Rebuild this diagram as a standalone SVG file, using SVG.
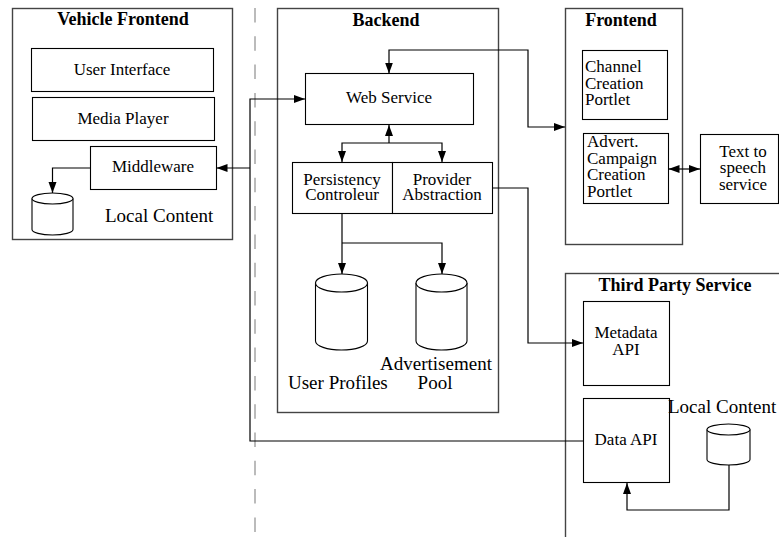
<svg xmlns="http://www.w3.org/2000/svg" width="779" height="537" viewBox="0 0 779 537">
  <style>
    .container { fill: #fff; stroke: #444; stroke-width: 1.4; }
    .box { fill: #fff; stroke: #000; stroke-width: 1.1; }
    .db { fill: #fff; stroke: #000; stroke-width: 1.1; }
    .wire { fill: none; stroke: #000; stroke-width: 1.2; }
    text { font-family: "Liberation Serif", "DejaVu Serif", serif; fill: #000; }
    .title { font-weight: bold; font-size: 18px; text-anchor: middle; }
    .lbl { font-size: 17px; font-weight: normal; }
    .mid { text-anchor: middle; }
    .big { font-size: 19px; }
    .divider { stroke: #bbb; stroke-width: 2; stroke-dasharray: 14.5 13.8; fill: none; }
  </style>
  <defs>
    <marker id="arrow" markerUnits="userSpaceOnUse" markerWidth="12" markerHeight="9" refX="11" refY="4" orient="auto-start-reverse">
      <path d="M0,0 L11,4 L0,8 z" fill="#000"/>
    </marker>
  </defs>

  <rect width="779" height="537" fill="#fff"/>

  <!-- divider between vehicle side and server side -->
  <line class="divider" x1="255" y1="8" x2="255" y2="537"/>

  <!-- Vehicle Frontend -->
  <g id="vehicle-frontend">
    <rect class="container" x="12.5" y="8.5" width="220" height="231"/>
    <text class="title" x="123" y="25">Vehicle Frontend</text>
    <g id="user-interface">
      <rect class="box" x="31.5" y="48.5" width="182" height="43"/>
      <text class="lbl mid" x="122" y="75">User Interface</text>
    </g>
    <g id="media-player">
      <rect class="box" x="32.5" y="97.5" width="182" height="43"/>
      <text class="lbl mid" x="123" y="124">Media Player</text>
    </g>
    <g id="middleware">
      <rect class="box" x="90.5" y="146.5" width="126" height="43"/>
      <text class="lbl mid" x="153" y="172">Middleware</text>
    </g>
    <g id="vehicle-local-content">
      <path class="db" d="M32,198.5 L32,229.5 A20.5,5.5 0 0 0 73,229.5 L73,198.5"/>
      <ellipse class="db" cx="52.5" cy="198.5" rx="20.5" ry="5.5"/>
      <text class="lbl big" x="105" y="222">Local Content</text>
    </g>
  </g>

  <!-- Backend -->
  <g id="backend">
    <rect class="container" x="277.5" y="8.5" width="221" height="404"/>
    <text class="title" x="386" y="26">Backend</text>
    <g id="web-service">
      <rect class="box" x="305.5" y="73.5" width="168" height="51"/>
      <text class="lbl mid" x="389" y="103">Web Service</text>
    </g>
    <g id="persistency-controleur">
      <rect class="box" x="292.5" y="162.5" width="100" height="51"/>
      <text class="lbl mid" x="342" y="185">Persistency</text>
      <text class="lbl mid" x="342" y="200">Controleur</text>
    </g>
    <g id="provider-abstraction">
      <rect class="box" x="392.5" y="162.5" width="100" height="51"/>
      <text class="lbl mid" x="442" y="185">Provider</text>
      <text class="lbl mid" x="442" y="200">Abstraction</text>
    </g>
    <g id="user-profiles">
      <path class="db" d="M315.5,283 L315.5,341 A26,9 0 0 0 367.5,341 L367.5,283"/>
      <ellipse class="db" cx="341.5" cy="283" rx="26" ry="9"/>
      <text class="lbl big" x="288" y="389">User Profiles</text>
    </g>
    <g id="advertisement-pool">
      <path class="db" d="M416,283 L416,341 A25.5,9 0 0 0 467,341 L467,283"/>
      <ellipse class="db" cx="441.5" cy="283" rx="25.5" ry="9"/>
      <text class="lbl big mid" x="436" y="370">Advertisement</text>
      <text class="lbl big mid" x="435" y="389">Pool</text>
    </g>
  </g>

  <!-- Frontend -->
  <g id="frontend">
    <rect class="container" x="565.5" y="8.5" width="117" height="236"/>
    <text class="title" x="621" y="26">Frontend</text>
    <g id="channel-creation-portlet">
      <rect class="box" x="582.5" y="50.5" width="85" height="69"/>
      <text class="lbl" x="585" y="72">Channel</text>
      <text class="lbl" x="585" y="88.5">Creation</text>
      <text class="lbl" x="585" y="105">Portlet</text>
    </g>
    <g id="advert-campaign-creation-portlet">
      <rect class="box" x="583.5" y="133.5" width="85" height="70"/>
      <text class="lbl" x="587" y="147">Advert.</text>
      <text class="lbl" x="587" y="163.5">Campaign</text>
      <text class="lbl" x="587" y="180">Creation</text>
      <text class="lbl" x="587" y="196.5">Portlet</text>
    </g>
  </g>

  <!-- Text to speech service -->
  <g id="text-to-speech">
    <rect class="box" x="700.5" y="134.5" width="78" height="69"/>
    <text class="lbl mid" x="743" y="157">Text to</text>
    <text class="lbl mid" x="743" y="173">speech</text>
    <text class="lbl mid" x="743" y="189.5">service</text>
  </g>

  <!-- Third Party Service -->
  <g id="third-party-service">
    <rect class="container" x="565.5" y="273.5" width="230" height="290"/>
    <text class="title" x="675" y="291">Third Party Service</text>
    <g id="metadata-api">
      <rect class="box" x="583.5" y="301.5" width="86" height="84"/>
      <text class="lbl mid" x="626" y="338">Metadata</text>
      <text class="lbl mid" x="626" y="355">API</text>
    </g>
    <g id="data-api">
      <rect class="box" x="583.5" y="398.5" width="86" height="84"/>
      <text class="lbl mid" x="626" y="445">Data API</text>
    </g>
    <g id="third-party-local-content">
      <path class="db" d="M707,429.5 L707,459.5 A21.5,5.5 0 0 0 750,459.5 L750,429.5"/>
      <ellipse class="db" cx="728.5" cy="429.5" rx="21.5" ry="5.5"/>
      <text class="lbl big" x="668" y="413">Local Content</text>
    </g>
  </g>

  <!-- Connectors -->
  <g id="connectors">
    <!-- vehicle middleware / web service / data API bus -->
    <polyline class="wire" points="583,441 250,441 250,99 305,99" marker-end="url(#arrow)"/>
    <line class="wire" x1="250" y1="168" x2="216.5" y2="168" marker-end="url(#arrow)"/>
    <!-- middleware to its local store -->
    <polyline class="wire" points="90.5,168 52.5,168 52.5,193" marker-end="url(#arrow)"/>
    <!-- web service to frontend portlets -->
    <polyline class="wire" points="389,73.5 389,50 528,50 528,127 565,127" marker-start="url(#arrow)" marker-end="url(#arrow)"/>
    <!-- web service to persistency / provider -->
    <line class="wire" x1="389" y1="143" x2="389" y2="125" marker-end="url(#arrow)"/>
    <polyline class="wire" points="342,162 342,143 442,143 442,162" marker-start="url(#arrow)" marker-end="url(#arrow)"/>
    <!-- persistency to databases -->
    <line class="wire" x1="342" y1="213.5" x2="342" y2="274" marker-end="url(#arrow)"/>
    <polyline class="wire" points="342,243 442,243 442,274" marker-end="url(#arrow)"/>
    <!-- provider abstraction to metadata API -->
    <polyline class="wire" points="492.5,188 528,188 528,343 583,343" marker-end="url(#arrow)"/>
    <!-- advert portlet to text to speech -->
    <line class="wire" x1="668.5" y1="169" x2="700" y2="169" marker-start="url(#arrow)" marker-end="url(#arrow)"/>
    <!-- third party local content to data API -->
    <polyline class="wire" points="729,465 729,510 627,510 627,483" marker-end="url(#arrow)"/>
  </g>
</svg>
